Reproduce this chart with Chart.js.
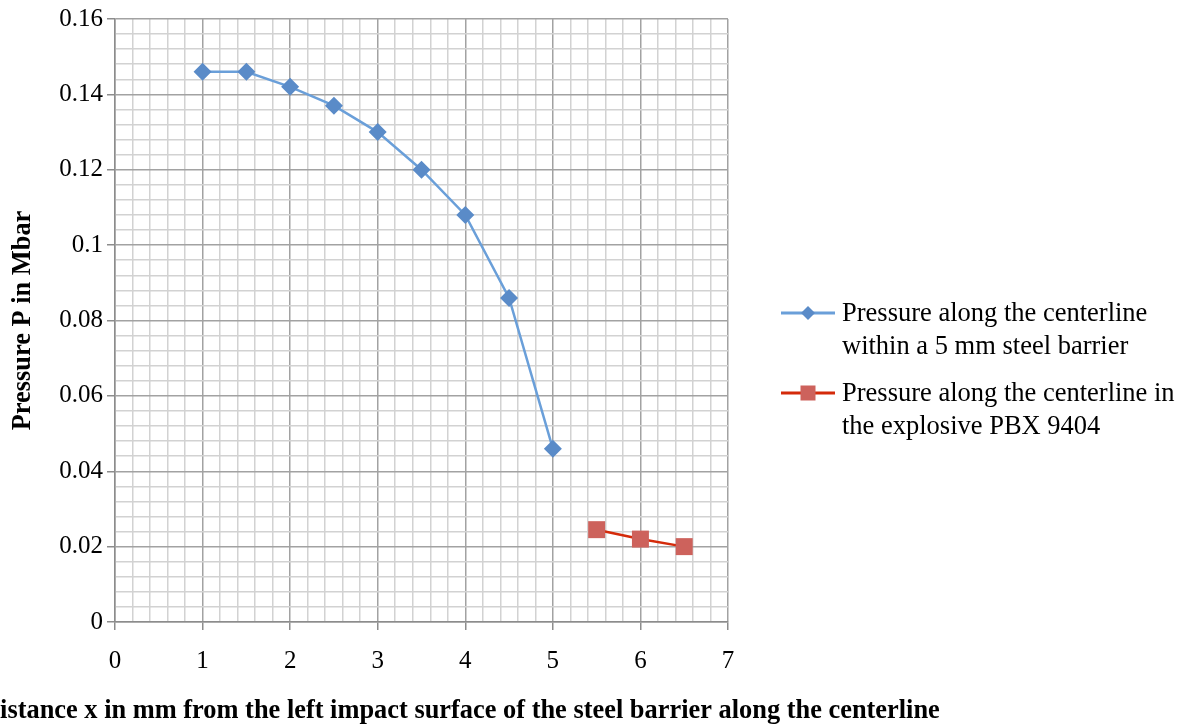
<!DOCTYPE html>
<html>
<head>
<meta charset="utf-8">
<script src="https://cdn.jsdelivr.net/npm/chart.js@4/dist/chart.umd.min.js"></script>
<style>
  html, body { margin: 0; padding: 0; background: #fff; }
  #wrap { position: relative; width: 1188px; height: 725px; overflow: hidden; }
  #legend { position: absolute; left: 781px; top: 296px; font-family: "Liberation Serif", "Times New Roman", serif; font-size: 26.5px; line-height: 33px; color: #000; }
  .item { position: relative; padding-left: 61px; margin-bottom: 14px; white-space: nowrap; }
  .item svg { position: absolute; left: 0; top: 7px; }
</style>
</head>
<body>
<div id="wrap">
  <canvas id="chart" width="1188" height="725"></canvas>
  <div id="legend"></div>
</div>
<script>
// values
const steelX = [1, 1.5, 2, 2.5, 3, 3.5, 4, 4.5, 5];
const steelP = [0.146, 0.146, 0.142, 0.137, 0.130, 0.120, 0.108, 0.086, 0.046];
const pbxX = [5.5, 6, 6.5];
const pbxP = [0.0245, 0.022, 0.020];

const seriesNames = [
    ['Pressure along the centerline', 'within a 5 mm steel barrier'],
    ['Pressure along the centerline in', 'the explosive PBX 9404']
];
const xTitle = 'Distance x in mm from the left impact surface of the steel barrier along the centerline';
const yTitle = 'Pressure P in Mbar';

const blueLine = '#6a9fd9', blueMark = '#5a8bc8';
const redLine = '#d42a0a', redMark = '#cd625c';
const majorGrid = '#a2a2a2', minorGrid = '#d2d2d2', axisCol = '#8c8c8c';
const serif = '"Liberation Serif", "Times New Roman", serif';

function toPoints(xs, ys) {
    return xs.map((x, i) => ({ x: x, y: ys[i] }));
}

function isMajor(v, step) {
    const q = v / step;
    return Math.abs(q - Math.round(q)) < 1e-6;
}

// x title is drawn by hand: in the picture it runs off the left edge
const xTitlePlugin = {
    id: 'xTitle',
    afterDraw(chart) {
        const ctx = chart.ctx;
        ctx.save();
        ctx.font = 'bold 26.4px ' + serif;
        ctx.fillStyle = '#000';
        ctx.textBaseline = 'alphabetic';
        ctx.textAlign = 'left';
        ctx.fillText(xTitle, -19, 718);
        ctx.restore();
    }
};

new Chart(document.getElementById('chart'), {
    type: 'scatter',
    data: {
        datasets: [{
            label: seriesNames[0].join(' '),
            data: toPoints(steelX, steelP),
            showLine: true,
            borderColor: blueLine,
            borderWidth: 2.5,
            pointStyle: 'rectRot',
            pointRadius: 9,
            pointBackgroundColor: blueMark,
            pointBorderColor: blueMark,
            pointBorderWidth: 0
        }, {
            label: seriesNames[1].join(' '),
            data: toPoints(pbxX, pbxP),
            showLine: true,
            borderColor: redLine,
            borderWidth: 2.5,
            pointStyle: 'rect',
            pointRadius: 12,
            pointBackgroundColor: redMark,
            pointBorderColor: redMark,
            pointBorderWidth: 0
        }]
    },
    options: {
        responsive: false,
        animation: false,
        layout: { padding: { top: 15, right: 460, left: 0, bottom: 0 } },
        plugins: {
            legend: { display: false },
            tooltip: { enabled: false }
        },
        scales: {
            x: {
                type: 'linear',
                min: 0,
                max: 7,
                afterFit: s => { s.height = 103; },
                ticks: {
                    stepSize: 0.2,
                    autoSkip: false,
                    maxRotation: 0,
                    minRotation: 0,
                    padding: 16,
                    color: '#000',
                    font: { family: serif, size: 25 },
                    callback: v => isMajor(v, 1) ? String(Math.round(v)) : ''
                },
                grid: {
                    lineWidth: 1.5,
                    tickLength: 8,
                    color: c => isMajor(c.tick.value, 1) ? majorGrid : minorGrid,
                    tickColor: c => isMajor(c.tick.value, 1) ? axisCol : 'rgba(0,0,0,0)'
                },
                border: { color: axisCol, width: 1.5 }
            },
            y: {
                type: 'linear',
                min: 0,
                max: 0.16,
                afterFit: s => { s.width = 115; },
                ticks: {
                    stepSize: 0.004,
                    autoSkip: false,
                    padding: 4,
                    color: '#000',
                    font: { family: serif, size: 25 },
                    callback: v => isMajor(v, 0.02) ? String(Number(v.toFixed(2))) : ''
                },
                grid: {
                    lineWidth: 1.5,
                    tickLength: 8,
                    color: c => isMajor(c.tick.value, 0.02) ? majorGrid : minorGrid,
                    tickColor: c => isMajor(c.tick.value, 0.02) ? axisCol : 'rgba(0,0,0,0)'
                },
                border: { color: axisCol, width: 1.5 },
                title: {
                    display: true,
                    text: yTitle,
                    color: '#000',
                    font: { family: serif, size: 26.4, weight: 'bold' },
                    padding: { top: 7, bottom: 2 }
                }
            }
        }
    },
    plugins: [xTitlePlugin]
});

// legend: two-line entries, built as HTML
const legendMarks = [
    '<svg width="54" height="20"><line x1="0" y1="10" x2="54" y2="10" stroke="' + blueLine + '" stroke-width="3"/>' +
    '<polygon points="27,3 34,10 27,17 20,10" fill="' + blueMark + '"/></svg>',
    '<svg width="54" height="20"><line x1="0" y1="10" x2="54" y2="10" stroke="' + redLine + '" stroke-width="3"/>' +
    '<rect x="19.5" y="2.5" width="15" height="15" fill="' + redMark + '"/></svg>'
];
const legend = document.getElementById('legend');
seriesNames.forEach((lines, i) => {
    const item = document.createElement('div');
    item.className = 'item';
    item.innerHTML = legendMarks[i] + lines.join('<br>');
    legend.appendChild(item);
});
</script>
</body>
</html>
